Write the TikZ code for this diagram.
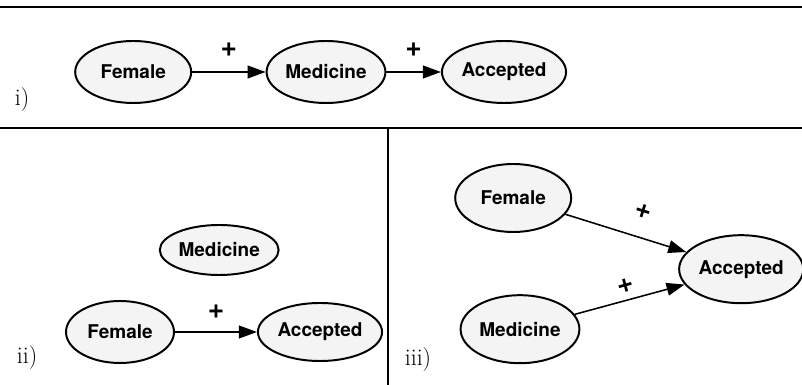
\documentclass[tikz,border=0pt]{standalone}
\usepackage{fontspec}
\newfontfamily\heros{TeX Gyre Heros}
\usetikzlibrary{arrows.meta,shapes.geometric}
\begin{document}
\begin{tikzpicture}[
  var/.style={draw, ellipse, line width=1.4pt, fill=gray!9, inner sep=1pt,
    minimum width=2.9cm, minimum height=1.55cm, font=\heros\bfseries\fontsize{13.5}{15}\selectfont},
  edge/.style={line width=1.1pt, -{Triangle[length=4.5mm,width=3.2mm]}},
  sign/.style={font=\heros\bfseries\fontsize{20}{22}\selectfont},
  tag/.style={font=\fontsize{17}{19}\selectfont}]
\useasboundingbox (0,0) rectangle (20.05,-9.625);
% frame lines
\draw[line width=1pt] (0,-0.175) -- (20.05,-0.175);
\draw[line width=1pt] (0,-3.2) -- (20.05,-3.2);
\draw[line width=0.8pt] (9.7,-3.2) -- (9.7,-9.625);
% i)
\node[var] (fa) at (3.33,-1.8) {Female};
\node[var] (ma) at (8.15,-1.8) {Medicine};
\node[var] (aa) at (12.6,-1.8) {Accepted};
\draw[edge] (fa) -- node[sign, midway, yshift=5.5mm] {+} (ma);
\draw[edge] (ma) -- node[sign, midway, yshift=5.5mm] {+} (aa);
\node[tag] (ti) at (0.55,-2.5) {i)};
% ii)
\node[var, minimum width=2.7cm, minimum height=1.55cm] (fb) at (3.0,-8.3) {Female};
\node[var, minimum width=2.65cm, minimum height=1.25cm] (mb) at (5.48,-6.25) {Medicine};
\node[var, minimum width=2.7cm, minimum height=1.45cm] (ab) at (8.0,-8.3) {Accepted};
\draw[edge] (fb) -- node[sign, midway, yshift=5mm] {+} (ab);
\node[tag] (tii) at (0.68,-8.95) {ii)};
% iii)
\node[var, minimum height=1.7cm] (fc) at (12.83,-4.95) {Female};
\node[var, minimum height=1.7cm] (mc) at (13.0,-8.23) {Medicine};
\node[var, minimum height=1.7cm] (ac) at (18.53,-6.73) {Accepted};
\draw[edge] (fc) -- node[sign, pos=0.58, sloped, above=3.5mm] {+} (ac);
\draw[edge] (mc) -- node[sign, midway, sloped, above=0.5mm] {+} (ac);
\node[tag] (tiii) at (10.45,-9.0) {iii)};
\end{tikzpicture}
\end{document}
